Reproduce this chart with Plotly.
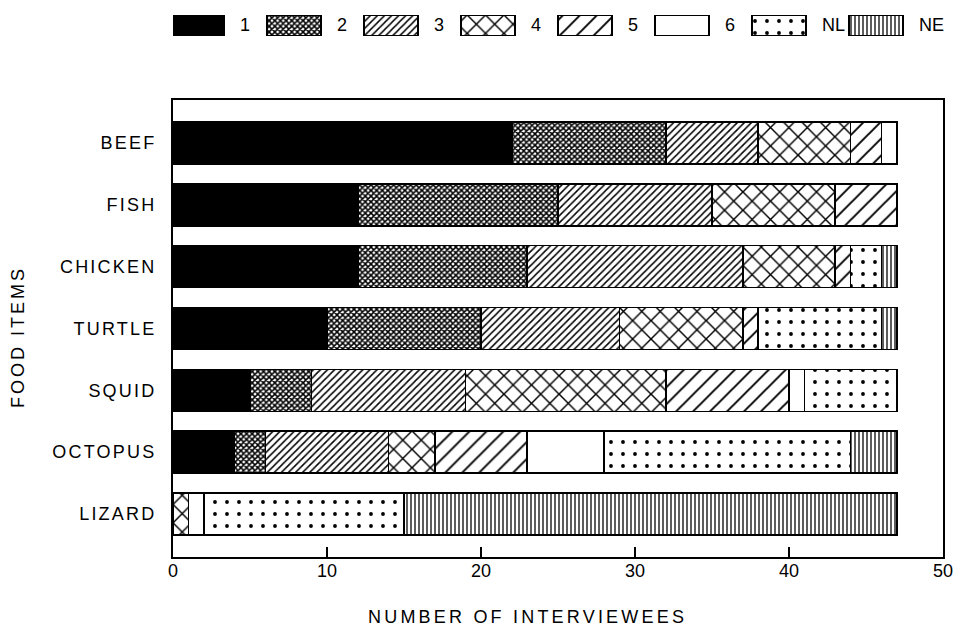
import plotly.graph_objects as go

foods = ["BEEF", "FISH", "CHICKEN", "TURTLE", "SQUID", "OCTOPUS", "LIZARD"]
s1 = [22, 12, 12, 10, 5, 4, 0]
s2 = [10, 13, 11, 10, 4, 2, 0]
s3 = [6, 10, 14, 9, 10, 8, 0]
s4 = [6, 8, 6, 8, 13, 3, 1]
s5 = [2, 4, 1, 1, 8, 6, 0]
s6 = [1, 0, 0, 0, 1, 5, 1]
s_nl = [0, 0, 2, 8, 6, 16, 13]
s_ne = [0, 0, 1, 1, 0, 3, 32]
series_names = ["1", "2", "3", "4", "5", "6", "NL", "NE"]
x_ticks = [0, 10, 20, 30, 40, 50]

series_values = [s1, s2, s3, s4, s5, s6, s_nl, s_ne]

# style per series: (fill color, pattern shape, pattern size, solidity)
styles = [
    ("black", "", 8, 0.3),
    ("white", "x", 4, 0.62),
    ("white", "/", 5, 0.3),
    ("white", "x", 13, 0.21),
    ("white", "/", 12, 0.16),
    ("white", "", 8, 0.3),
    ("white", ".", 12, 0.08),
    ("white", "|", 4, 0.32),
]

FONT = "Liberation Sans"
LS = lambda t, px: f'<span style="letter-spacing:{px}px">{t}</span>'


def marker_for(col, shp, sz, sol):
    return dict(
        color=col,
        line=dict(color="black", width=1.5),
        pattern=dict(shape=shp, size=sz, solidity=sol, fgcolor="black", bgcolor=col, fillmode="replace"),
    )


fig = go.Figure()

for name, vals, st in zip(series_names, series_values, styles):
    fig.add_trace(go.Bar(
        y=foods,
        x=[v if v else None for v in vals],
        orientation="h",
        name=name,
        marker=marker_for(*st),
        showlegend=False,
        xaxis="x", yaxis="y",
    ))

# custom legend swatches drawn on their own axes (one trace per series)
for i, (name, st) in enumerate(zip(series_names, styles)):
    fig.add_trace(go.Bar(
        y=[0], x=[0.557], base=[i], orientation="h", width=1,
        marker=marker_for(*st), showlegend=False, hoverinfo="skip",
        xaxis="x2", yaxis="y2",
    ))

annotations = []
for i, nm in enumerate(series_names):
    annotations.append(dict(
        x=i + 0.70, y=0, xref="x2", yref="y2", text=nm, showarrow=False,
        xanchor="left", yanchor="middle", font=dict(size=18, family=FONT, color="black"),
    ))

annotations.append(dict(
    x=0.461, y=-0.1097, xref="paper", yref="paper",
    text=LS("NUMBER OF INTERVIEWEES", 3.2), showarrow=False,
    xanchor="center", yanchor="middle", font=dict(size=18, family=FONT, color="black"),
))
annotations.append(dict(
    x=-0.2013, y=0.402, xref="paper", yref="paper",
    text=LS("FOOD ITEMS", 3), showarrow=False, textangle=-90,
    xanchor="center", yanchor="middle", font=dict(size=18, family=FONT, color="black"),
))

fig.update_layout(
    width=957, height=626,
    margin=dict(l=173, r=14, t=10, b=69, autoexpand=False),
    paper_bgcolor="white", plot_bgcolor="white",
    barmode="stack", bargap=0.32,
    font=dict(family=FONT, size=18, color="black"),
    annotations=annotations,
    xaxis=dict(
        range=[0, 50], tickvals=x_ticks, ticks="inside", ticklen=10, tickwidth=2,
        tickcolor="black", showline=True, linecolor="black", linewidth=2, mirror=True,
        showgrid=False, zeroline=False, tickfont=dict(size=18, family=FONT),
        anchor="y", domain=[0, 1], ticklabelstandoff=-4, automargin=False,
    ),
    yaxis=dict(
        type="category", categoryorder="array", categoryarray=foods[::-1],
        range=[-0.695, 6.695], tickvals=foods, ticktext=[LS(f, 2.2) for f in foods],
        ticks="", showline=True, linecolor="black", linewidth=2, mirror=True,
        showgrid=False, zeroline=False, tickfont=dict(size=18, family=FONT),
        domain=[0, 0.8355], anchor="x", ticklabelstandoff=11, automargin=False,
    ),
    xaxis2=dict(range=[0.0309, 7.969], domain=[0, 1], anchor="y2", visible=False, automargin=False),
    yaxis2=dict(range=[-0.5, 0.5], domain=[0.9525, 0.9909], anchor="x2", visible=False, automargin=False),
)

fig.write_html(
    "out.html",
    config={"displayModeBar": False},
    post_script="document.body.style.margin='0';document.body.style.overflow='hidden';",
)
